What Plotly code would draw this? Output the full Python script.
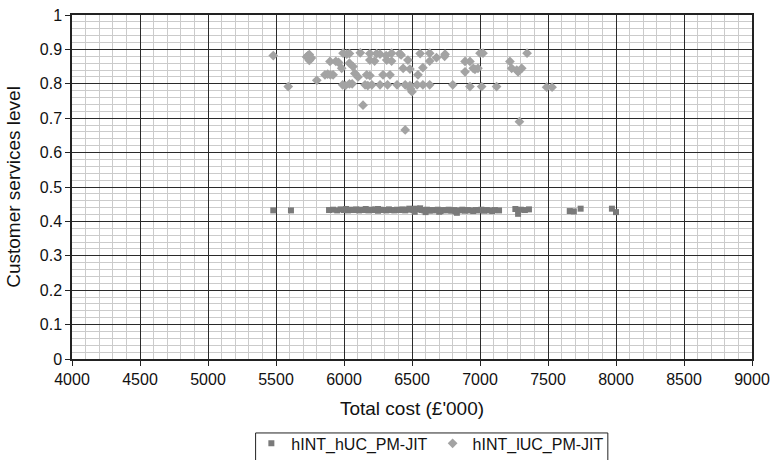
import plotly.graph_objects as go

# Series 1: hINT_hUC_PM-JIT (squares)
hUC_cost = [5480, 5610, 5890, 5920, 5950, 5975, 6000, 6015, 6030, 6050, 6070, 6090,
            6110, 6125, 6140, 6160, 6180, 6200, 6215, 6230, 6250, 6270, 6290, 6310,
            6330, 6350, 6370, 6390, 6410, 6430, 6450, 6470, 6490, 6510, 6530, 6550,
            6570, 6590, 6610, 6630, 6650, 6670, 6690, 6710, 6730, 6750, 6770, 6790,
            6810, 6830, 6850, 6870, 6890, 6910, 6930, 6950, 6970, 6990, 7010, 7030,
            7050, 7070, 7090, 7110, 7140, 7260, 7280, 7300, 7330, 7360, 7660, 7690,
            7740, 7970, 8000, 6520, 6560, 6600, 6480, 6820, 6250, 6700]
hUC_level = [0.432, 0.432, 0.433, 0.434, 0.432, 0.435, 0.433, 0.436, 0.432, 0.434, 0.433, 0.435,
             0.432, 0.434, 0.433, 0.436, 0.432, 0.434, 0.433, 0.435, 0.431, 0.434, 0.433, 0.432,
             0.435, 0.433, 0.432, 0.434, 0.433, 0.435, 0.432, 0.434, 0.436, 0.433, 0.437, 0.435,
             0.433, 0.432, 0.434, 0.431, 0.433, 0.432, 0.434, 0.430, 0.433, 0.432, 0.434, 0.431,
             0.433, 0.425, 0.432, 0.434, 0.431, 0.433, 0.432, 0.430, 0.433, 0.432, 0.434, 0.431,
             0.433, 0.432, 0.430, 0.433, 0.432, 0.436, 0.422, 0.434, 0.433, 0.435, 0.430, 0.429,
             0.437, 0.437, 0.427, 0.428, 0.438, 0.427, 0.437, 0.429, 0.436, 0.428]

# Series 2: hINT_lUC_PM-JIT (diamonds)
lUC_cost = [5480, 5590, 5725, 5745, 5760, 5745, 5735, 5800, 5860, 5880, 5900, 5920,
            5897, 5940, 5960, 5993, 6020, 6040, 6120, 5983, 6066, 6040, 5990, 6010,
            6040, 6060, 6140, 6103, 6080, 6190, 6240, 6265, 6350, 6410, 6560, 6630,
            6743, 6190, 6314, 6350, 6470, 6630, 6225, 6435, 6485, 6580, 6167, 6190,
            6287, 6338, 6544, 6155, 6175, 6205, 6265, 6320, 6390, 6450, 6485, 6537,
            6580, 6630, 6800, 6500, 6490, 6450, 7000, 7022, 7346, 6890, 6926, 7220,
            6950, 6985, 7233, 7270, 7307, 6890, 7280, 6926, 7012, 7122, 7490, 7530,
            7290, 6963, 6740, 6680, 6310, 6420]
lUC_level = [0.882, 0.792, 0.878, 0.885, 0.875, 0.868, 0.882, 0.810, 0.826, 0.828, 0.826, 0.826,
             0.865, 0.865, 0.862, 0.889, 0.886, 0.888, 0.890, 0.845, 0.850, 0.860, 0.797, 0.795,
             0.800, 0.800, 0.738, 0.820, 0.830, 0.888, 0.888, 0.886, 0.889, 0.888, 0.888, 0.889,
             0.886, 0.869, 0.869, 0.866, 0.869, 0.866, 0.866, 0.845, 0.843, 0.847, 0.826, 0.824,
             0.826, 0.826, 0.826, 0.797, 0.795, 0.797, 0.797, 0.797, 0.797, 0.797, 0.795, 0.797,
             0.797, 0.797, 0.797, 0.777, 0.785, 0.666, 0.889, 0.889, 0.889, 0.865, 0.865, 0.865,
             0.845, 0.845, 0.845, 0.840, 0.845, 0.835, 0.835, 0.792, 0.792, 0.792, 0.790, 0.790,
             0.690, 0.842, 0.880, 0.876, 0.882, 0.884]

x_ticks = [4000, 4500, 5000, 5500, 6000, 6500, 7000, 7500, 8000, 8500, 9000]
y_ticks = [0, 0.1, 0.2, 0.3, 0.4, 0.5, 0.6, 0.7, 0.8, 0.9, 1]
y_tick_text = ["0", "0.1", "0.2", "0.3", "0.4", "0.5", "0.6", "0.7", "0.8", "0.9", "1"]

fig = go.Figure()
fig.add_trace(go.Scatter(
    x=hUC_cost, y=hUC_level, mode="markers", name="hINT_hUC_PM-JIT",
    marker=dict(symbol="square", size=6, color="#7a7a7a", line=dict(width=0))))
fig.add_trace(go.Scatter(
    x=lUC_cost, y=lUC_level, mode="markers", name="hINT_lUC_PM-JIT",
    marker=dict(symbol="diamond", size=7.5, color="#a3a3a3", line=dict(width=0))))

font = dict(family="Liberation Sans, Arial, sans-serif", size=16, color="#111")

# legend frame (drawn as a paper-referenced rectangle so it can sit tight round the text)
fig.add_shape(type="rect", xref="paper", yref="paper",
              x0=0.27, x1=0.788, y0=-0.33, y1=-0.215,
              line=dict(color="#222", width=1), fillcolor="rgba(0,0,0,0)", layer="above")

fig.update_layout(
    width=776, height=460,
    margin=dict(l=72, r=24, t=15, b=101, autoexpand=False),
    paper_bgcolor="white", plot_bgcolor="white",
    font=font,
    showlegend=True,
    legend=dict(orientation="h", x=0.527, xanchor="center", y=-0.196, yanchor="top",
                borderwidth=0, font=dict(size=16),
                itemwidth=30, tracegroupgap=0, bgcolor="rgba(0,0,0,0)"),
    xaxis=dict(range=[4000, 9000], tickmode="array", tickvals=x_ticks,
               ticks="outside", ticklen=5, tickcolor="#222",
               showline=True, linecolor="#222", linewidth=1.5, mirror=True,
               showgrid=True, gridcolor="#2a2a2a", gridwidth=1.3,
               minor=dict(dtick=100, showgrid=True, gridcolor="#cbcbcb", gridwidth=1, ticks=""),
               title=dict(text="Total cost (£'000)", standoff=15), zeroline=False,
               automargin=False),
    yaxis=dict(range=[0, 1], tickmode="array", tickvals=y_ticks, ticktext=y_tick_text,
               ticks="outside", ticklen=5, tickcolor="#222",
               showline=True, linecolor="#222", linewidth=1.5, mirror=True,
               showgrid=True, gridcolor="#2a2a2a", gridwidth=1.3,
               minor=dict(dtick=0.02, showgrid=True, gridcolor="#cbcbcb", gridwidth=1, ticks=""),
               title=dict(text="Customer services level", standoff=14), zeroline=False,
               automargin=False),
)

fig.write_html("out.html")
